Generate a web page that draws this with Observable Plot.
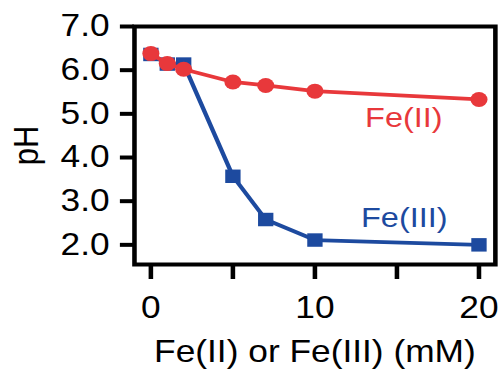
<!DOCTYPE html>
<html>
<head>
<meta charset="utf-8">
<script src="https://cdn.jsdelivr.net/npm/d3@7"></script>
<script src="https://cdn.jsdelivr.net/npm/@observablehq/plot@0.6"></script>
<style>
  html, body { margin: 0; padding: 0; background: white; }
  #chart { width: 498px; height: 369px; overflow: hidden; }
</style>
</head>
<body>
<div id="chart"></div>
<script>
// Concentrations (mM)
const concentrations = [0, 1, 2, 5, 7, 10, 20];
// pH values
const feIIpH  = [6.38, 6.15, 6.02, 5.73, 5.65, 5.52, 5.33];
const feIIIpH = [6.36, 6.14, 6.14, 3.57, 2.58, 2.11, 2.00];
// axis ticks
const xTicks = [0, 5, 10, 15, 20];
const xTickLabels = ["0", "", "10", "", "20"];
const yTicks = [2, 3, 4, 5, 6, 7];
const seriesNames = ["Fe(II)", "Fe(III)"];
const xLabel = "Fe(II) or Fe(III) (mM)";
const yLabel = "pH";

const red = "#e8383b";
const blue = "#1d4a9f";

const feII = concentrations.map((c, i) => ({x: c, y: feIIpH[i]}));
const feIII = concentrations.map((c, i) => ({x: c, y: feIIIpH[i]}));
const labels = [
  {x: 15.42, y: 4.9, text: seriesNames[0], color: red},
  {x: 15.45, y: 2.615, text: seriesNames[1], color: blue}
];

const font = "'Liberation Sans', Arial, Helvetica, sans-serif";

const svg = Plot.plot({
  width: 437,
  height: 369,
  marginLeft: 117.5,
  marginRight: 2.8,
  marginTop: 26,
  marginBottom: 105,
  style: {fontFamily: font, fontSize: "31px", background: "white", color: "black", overflow: "visible"},
  x: {domain: [-1, 21]},
  y: {domain: [1.55, 7.0]},
  marks: [
    Plot.frame({stroke: "black", strokeWidth: 4}),
    Plot.axisX({
      ticks: xTicks,
      tickFormat: d => xTickLabels[xTicks.indexOf(d)],
      tickSize: 15,
      tickPadding: 16.5,
      strokeWidth: 4,
      label: xLabel,
      labelAnchor: "center",
      labelArrow: "none",
      labelOffset: 97.5,
      fontSize: 31
    }),
    Plot.axisY({
      ticks: yTicks,
      tickFormat: d3.format(".1f"),
      tickSize: 12.3,
      tickPadding: 9.5,
      strokeWidth: 4,
      label: yLabel,
      labelAnchor: "center",
      labelArrow: "none",
      labelOffset: 107,
      fontSize: 31
    }),
    Plot.line(feIII, {x: "x", y: "y", stroke: blue, strokeWidth: 3.8}),
    Plot.dot(feIII, {x: "x", y: "y", symbol: "square", r: 7.6, fill: blue, stroke: "none"}),
    Plot.line(feII, {x: "x", y: "y", stroke: red, strokeWidth: 3.8}),
    Plot.dot(feII, {x: "x", y: "y", symbol: "circle", r: 7.5, fill: red, stroke: "none"}),
    Plot.text(labels, {x: "x", y: "y", text: "text", fill: "color", fontSize: 28.5, textAnchor: "middle", lineAnchor: "middle"})
  ]
});

// The reference is horizontally stretched; scale the drawing to 498 px wide.
svg.setAttribute("width", 498);
svg.setAttribute("height", 369);
svg.setAttribute("preserveAspectRatio", "none");
svg.style.width = "498px";
svg.style.height = "369px";
svg.style.maxWidth = "none";
document.getElementById("chart").appendChild(svg);
</script>
</body>
</html>
